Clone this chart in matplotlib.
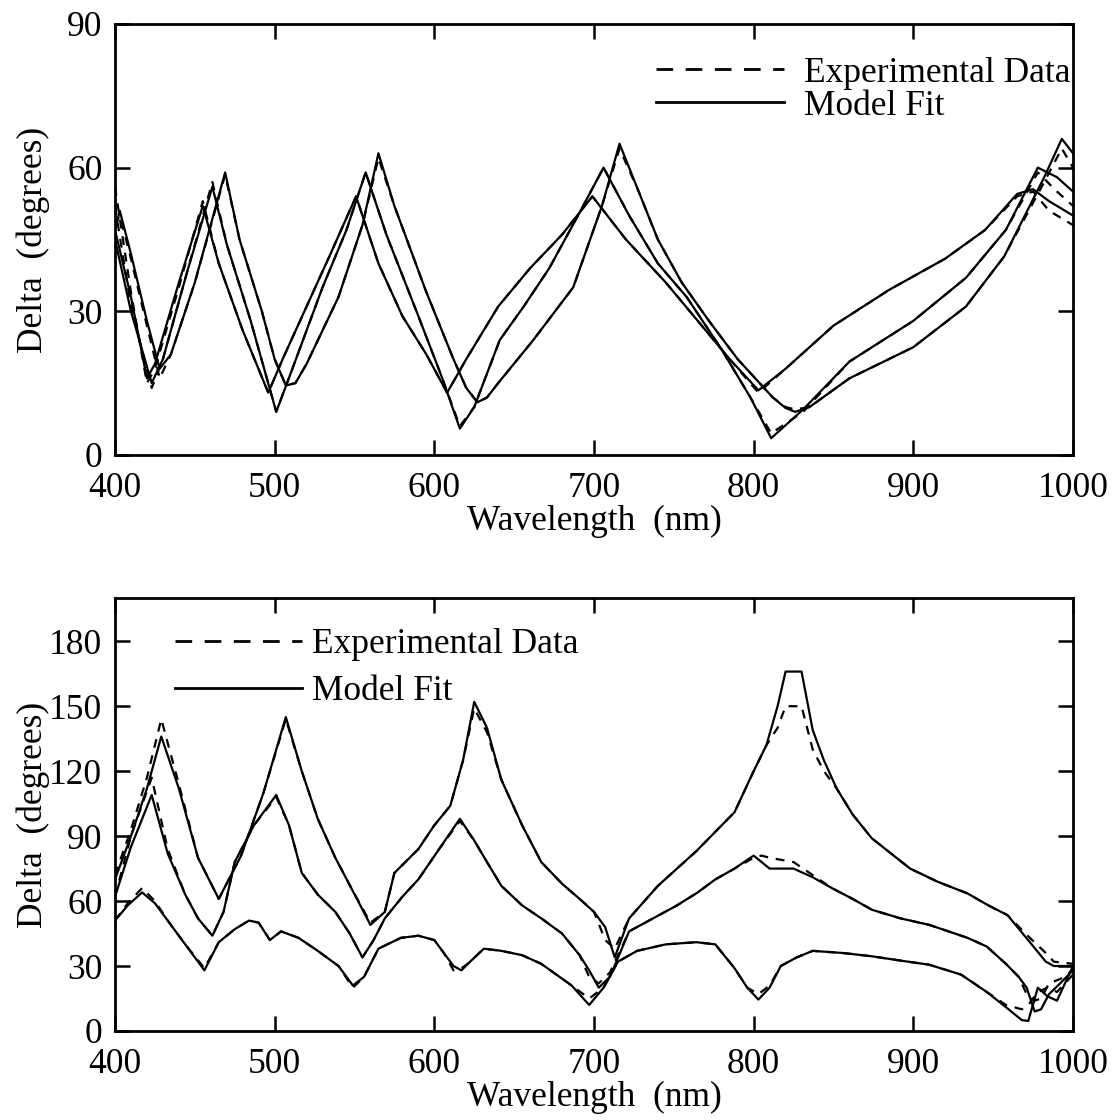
import matplotlib.pyplot as plt
from matplotlib.lines import Line2D

plt.rcParams['font.family'] = ['Liberation Serif', 'DejaVu Serif']
plt.rcParams['font.size'] = 25.5

# ---- top panel: three samples, model fit and experimental data ----
top_a_wl = [400, 410, 420, 425, 440, 455, 465, 480, 496, 505, 520, 535, 551, 565, 580, 595, 608, 620,
            640, 660, 680, 699, 720, 745, 765, 785, 803, 820, 850, 885, 920, 945, 965, 975, 985, 1000]
top_a_fit = [47, 33, 16, 19, 36, 52, 40, 26, 13, 20, 31, 42, 54, 40, 29, 21, 13, 20,
             31, 39, 46, 54, 45, 36, 28, 20, 13.5, 18, 27, 34.5, 41, 47, 54.5, 55.5, 53, 50]
top_a_exp = [56, 34, 15, 18, 35, 53, 40, 26, 13, 20, 31, 42, 54, 40, 29, 21, 13, 20,
             31, 39, 46, 54, 45, 36, 28, 20, 13, 18, 27, 34.5, 41, 47, 54, 55, 51, 48]

top_b_wl = [400, 410, 423, 430, 445, 461, 470, 485, 501, 510, 530, 545, 557, 570, 590, 605, 616, 625, 641,
            656, 672, 690, 706, 722, 740, 758, 780, 798, 811, 831, 860, 900, 933, 958, 978, 990, 1000]
top_b_fit = [45, 30, 15, 20, 38, 56, 44, 28, 9, 17, 35, 47, 59, 46, 29, 16, 5.5, 10, 24,
             31, 39, 50, 60, 50, 40, 33, 22, 12, 3.5, 9.5, 19.5, 28, 37, 47, 60, 58, 55]
top_b_exp = [52, 31, 14, 20, 38, 57, 44, 28, 9, 17, 35, 47, 59, 46, 29, 16, 6, 10, 24,
             31, 39, 50, 60, 50, 40, 33, 22, 12, 4.5, 9, 19.5, 28, 37, 47, 59, 55, 52]

top_c_wl = [400, 403, 410, 420, 428, 435, 450, 469, 478, 492, 500, 507, 513, 520, 540, 555, 565, 575, 595,
            612, 620, 627, 633, 640, 662, 687, 705, 716, 728, 740, 755, 772, 790, 812, 820, 826, 835, 860,
            900, 933, 957, 982, 993, 1000]
top_c_fit = [47, 51, 42, 28, 18, 21, 36, 59, 45, 30, 20, 14.5, 15, 19, 33, 48, 63, 52, 34,
             20, 14, 11, 12, 15, 24, 35, 52, 65, 55, 45, 36, 28, 20, 12, 9.8, 9, 10, 16,
             22.5, 31, 41.5, 58, 66, 63]
top_c_exp = [48, 50, 41, 27, 16, 21, 36, 58.5, 45, 30, 20, 14.5, 15, 19, 33, 48, 62, 52, 34,
             20, 14, 11, 12, 15, 24, 35, 52, 64, 55, 45, 36, 28, 20, 12, 10, 9.5, 10, 16,
             22.5, 31, 41.5, 57, 64, 60]

# ---- bottom panel ----
bot_t_wl = [400, 410, 420, 429, 440, 452, 465, 479, 493, 507, 517, 527, 538, 548, 560, 569, 575, 590, 600,
            610, 618, 625, 633, 642, 655, 667, 680, 691, 700, 707, 713, 722, 740, 764, 788, 800, 808, 815,
            820, 830, 837, 844, 852, 862, 874, 886, 898, 915, 934, 947, 959, 973, 983, 988, 1000]
bot_t_fit = [70, 90, 112, 136, 112, 80, 61, 81, 110, 145, 120, 98, 80, 66, 49, 55, 73, 84, 95,
             104, 125, 152, 140, 116, 95, 78, 68, 61, 55, 48, 34, 52, 67, 83, 101, 120, 132, 150,
             166, 166, 139, 125, 112, 100, 89, 82, 75, 69, 63.5, 58, 53.5, 41, 32, 30, 30]
bot_t_exp = [72, 93, 117, 144, 114, 80, 61, 81, 110, 144, 120, 98, 80, 66, 50, 55, 73, 84, 95,
             104, 125, 149, 138, 116, 95, 78, 68, 61, 55, 42, 38, 52, 67, 83, 101, 120, 132, 140,
             150, 150, 130, 120, 112, 100, 89, 82, 75, 69, 63.5, 58, 53.5, 43, 36, 32, 31]

bot_m_wl = [400, 410, 423, 433, 444, 452, 461, 468, 475, 487, 501, 509, 517, 527, 538, 547, 555, 562, 569,
            580, 590, 603, 616, 625, 633, 642, 655, 667, 680, 691, 697, 703, 710, 722, 737, 752, 765, 776,
            788, 800, 805, 810, 825, 837, 849, 862, 874, 892, 910, 934, 946, 958, 966, 971, 976, 980, 985,
            992, 1000]
bot_m_fit = [62, 85, 109, 82, 63, 52, 44, 55, 78, 95, 109, 95, 73, 63, 55, 45, 34, 42, 52,
             62, 70, 84, 98, 88, 78, 67, 58, 52, 45, 35, 28, 20, 25, 46, 52, 58, 64, 70,
             75, 81, 78, 75, 75, 71, 66, 61, 56, 52, 49, 43, 39, 31, 25, 20, 9, 10, 17,
             22, 28]
bot_m_exp = [62, 90, 117, 84, 63, 52, 44, 55, 78, 95, 108, 95, 73, 63, 55, 45, 34, 42, 52,
             62, 70, 84, 97, 88, 78, 67, 58, 52, 45, 35, 25, 22, 27, 46, 52, 58, 64, 70,
             75, 80, 81, 80, 78, 72, 66, 61, 56, 52, 49, 43, 39, 31, 25, 17, 14, 15, 22,
             24, 28]

bot_b_wl = [400, 408, 417, 425, 434, 444, 456, 465, 475, 484, 490, 497, 504, 515, 527, 540, 549, 556, 565,
            579, 590, 600, 606, 612, 617, 621, 631, 642, 655, 667, 686, 697, 706, 715, 727, 745, 764, 776,
            788, 796, 803, 810, 817, 827, 837, 856, 874, 892, 910, 930, 946, 958, 968, 972, 978, 984, 990,
            1000]
bot_b_fit = [51, 58, 64, 59, 50, 40, 28, 41, 47, 51, 50, 42, 46, 43, 37, 30, 21, 25, 38,
             43, 44, 42, 36, 30, 28, 31, 38, 37, 35, 31, 21, 12, 20, 32, 37, 40, 41, 40,
             29, 20, 14.5, 20, 30, 34, 37, 36, 34.5, 32.5, 30.6, 26, 18, 11, 5, 4.6, 20, 16, 14,
             30]
bot_b_exp = [51, 59, 66, 60, 50, 40, 29, 41, 47, 51, 50, 42, 46, 43, 37, 30, 20, 25, 38,
             43, 44, 42, 36, 28, 29, 31, 38, 37, 35, 31, 21, 15, 20, 32, 37, 40, 41, 40,
             29, 20, 17, 21, 30, 34, 37, 36, 34.5, 32.5, 30.6, 26, 18, 12, 10, 12, 18, 20, 18,
             26]

fig = plt.figure(figsize=(11.12, 11.2), dpi=100)
ax1 = fig.add_axes([0.1034, 0.5938, 0.8615, 0.3848])
ax2 = fig.add_axes([0.1034, 0.0795, 0.8615, 0.3866])

LW = 1.6


def draw(ax, sets):
    for wl, fit, exp in sets:
        ax.plot(wl, exp, color='black', lw=LW, dashes=(4, 3.5))
        ax.plot(wl, fit, color='black', lw=LW)


draw(ax1, [(top_a_wl, top_a_fit, top_a_exp),
           (top_b_wl, top_b_fit, top_b_exp),
           (top_c_wl, top_c_fit, top_c_exp)])
draw(ax2, [(bot_t_wl, bot_t_fit, bot_t_exp),
           (bot_m_wl, bot_m_fit, bot_m_exp),
           (bot_b_wl, bot_b_fit, bot_b_exp)])

ax1.set_ylim(0, 90)
ax1.set_yticks([0, 30, 60, 90])
ax2.set_ylim(0, 200)
ax2.set_yticks([0, 30, 60, 90, 120, 150, 180])

for ax in (ax1, ax2):
    ax.set_xlim(400, 1000)
    ax.set_xticks([400, 500, 600, 700, 800, 900, 1000])
    ax.tick_params(direction='in', length=11, width=1.8, top=True, right=True)
    ax.tick_params(axis='x', pad=12)
    ax.tick_params(axis='y', pad=9)
    for s in ax.spines.values():
        s.set_linewidth(2)
    ax.set_xlabel('Wavelength  (nm)', labelpad=0)
    ax.set_ylabel('Delta  (degrees)')
    ax.yaxis.set_label_coords(-0.068, 0.5)

handles = [Line2D([], [], color='black', lw=2, dashes=(6, 4.5)),
           Line2D([], [], color='black', lw=2)]
labels = ['Experimental Data', 'Model Fit']

ax1.legend(handles, labels, loc='upper left', bbox_to_anchor=(0.565, 0.924), frameon=False,
           handlelength=3.6, handletextpad=0.56, labelspacing=0.0, borderpad=0,
           borderaxespad=0)
ax2.legend(handles, labels, loc='upper left', bbox_to_anchor=(0.0626, 0.93), frameon=False,
           handlelength=3.6, handletextpad=0.28, labelspacing=0.4, borderpad=0,
           borderaxespad=0)

fig.savefig('out.png', dpi=100)
